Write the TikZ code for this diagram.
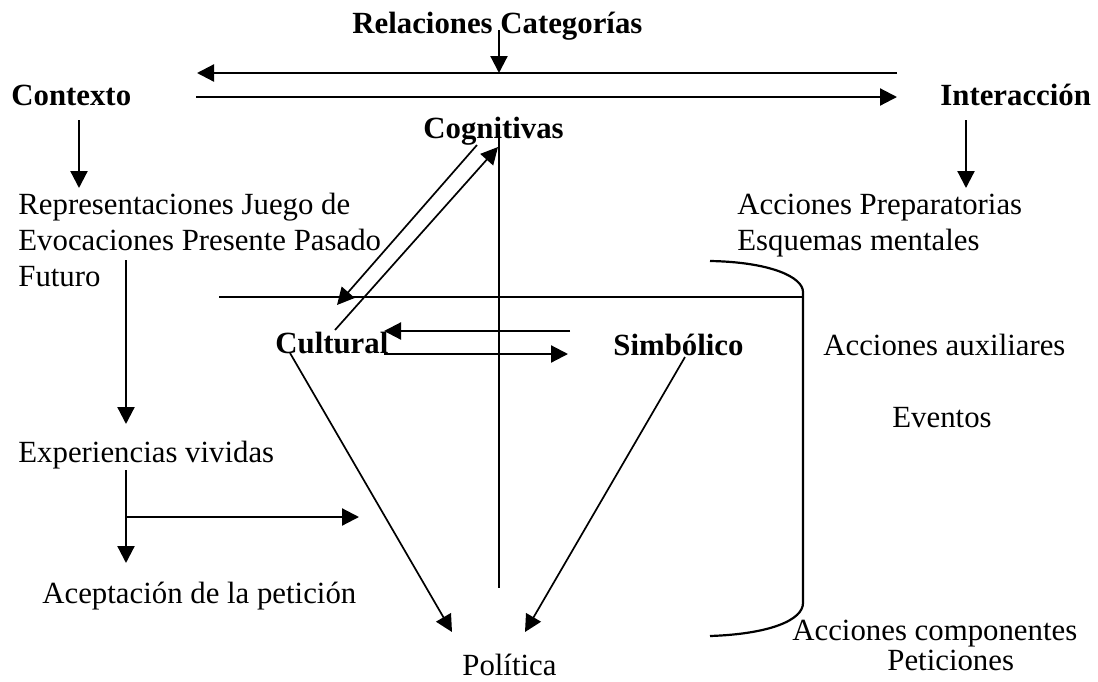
\documentclass[tikz,border=0pt]{standalone}
\usepackage{fontspec}
\setmainfont{Liberation Serif}
\usetikzlibrary{arrows.meta}
\begin{document}
\begin{tikzpicture}[x=0.5pt,y=-0.5pt,
  lbl/.style={anchor=base west,inner sep=0pt,font=\fontsize{15.4}{18}\selectfont},
  blbl/.style={anchor=base west,inner sep=0pt,font=\fontsize{15.4}{18}\selectfont\bfseries},
  ln/.style={line width=1.1pt},
  dg/.style={line width=0.85pt},
  tip/.style={-{Triangle[length=8.5pt,width=8.5pt]}}]
\useasboundingbox (0,0) rectangle (1098,681);
% texts
\node[blbl] (rel) at (352,33) {Relaciones Categorías};
\node[blbl] (ctx) at (11,105) {Contexto};
\node[blbl] (int) at (940,105) {Interacción};
\node[blbl] (cog) at (423,138) {Cognitivas};
\node[lbl] (rep1) at (18,214) {Representaciones Juego de};
\node[lbl] (rep2) at (18,250) {Evocaciones Presente Pasado};
\node[lbl] (rep3) at (18,286) {Futuro};
\node[lbl] (acp1) at (737,214) {Acciones Preparatorias};
\node[lbl] (acp2) at (737,250) {Esquemas mentales};
\node[blbl] (cul) at (275,353) {Cultural};
\node[blbl] (sim) at (613,355) {Simbólico};
\node[lbl] (aux) at (823,355) {Acciones auxiliares};
\node[lbl] (eve) at (892,427) {Eventos};
\node[lbl] (exp) at (18,462) {Experiencias vividas};
\node[lbl] (ace) at (42,603) {Aceptación de la petición};
\node[lbl] (pol) at (462,675) {Política};
\node[lbl] (acc) at (792,640) {Acciones componentes};
\node[lbl] (pet) at (887,670) {Peticiones};
% coordinates
\coordinate (relA) at (499,30);  \coordinate (relB) at (499,73);
\coordinate (topR) at (897,73);  \coordinate (topL) at (197,73);
\coordinate (midL) at (196,97);  \coordinate (midR) at (897,97);
\coordinate (ctxA) at (79,120);  \coordinate (ctxB) at (79,188);
\coordinate (intA) at (966,120); \coordinate (intB) at (966,188);
\coordinate (futA) at (126,260); \coordinate (futB) at (126,424);
\coordinate (expA) at (126,470); \coordinate (expB) at (126,563);
\coordinate (brA) at (126,517);  \coordinate (brB) at (359,517);
\coordinate (vA) at (499,130);   \coordinate (vB) at (499,588);
\coordinate (d1A) at (477,145);  \coordinate (d1B) at (337,305);
\coordinate (d2A) at (335,330);  \coordinate (d2B) at (498,147);
\coordinate (hA) at (219,297);   \coordinate (hB) at (803,297);
\coordinate (csR) at (570,331);  \coordinate (csL) at (384,331);
\coordinate (scL) at (384,354);  \coordinate (scR) at (568,354);
\coordinate (culA) at (290,353); \coordinate (culB) at (452,632);
\coordinate (simA) at (685,357); \coordinate (simB) at (525,632);
\coordinate (bT) at (710,261);   \coordinate (bTc) at (803,292);
\coordinate (bBc) at (803,603);  \coordinate (bB) at (710,636);
% connectors
\draw[ln,tip] (relA) -- (relB);
\draw[ln,tip] (topR) -- (topL);
\draw[ln,tip] (midL) -- (midR);
\draw[ln,tip] (ctxA) -- (ctxB);
\draw[ln,tip] (intA) -- (intB);
\draw[ln,tip] (futA) -- (futB);
\draw[ln,tip] (expA) -- (expB);
\draw[ln,tip] (brA) -- (brB);
\draw[ln] (vA) -- (vB);
\draw[dg,tip] (d1A) -- (d1B);
\draw[dg,tip] (d2A) -- (d2B);
\draw[ln] (hA) -- (hB);
\draw[ln,tip] (csR) -- (csL);
\draw[ln,tip] (scL) -- (scR);
\draw[dg,tip] (culA) -- (culB);
\draw[dg,tip] (simA) -- (simB);
\draw[ln] (bT) .. controls (770,262) and (803,277) .. (bTc) -- (bBc)
  .. controls (803,620) and (770,634) .. (bB);
\end{tikzpicture}
\end{document}
